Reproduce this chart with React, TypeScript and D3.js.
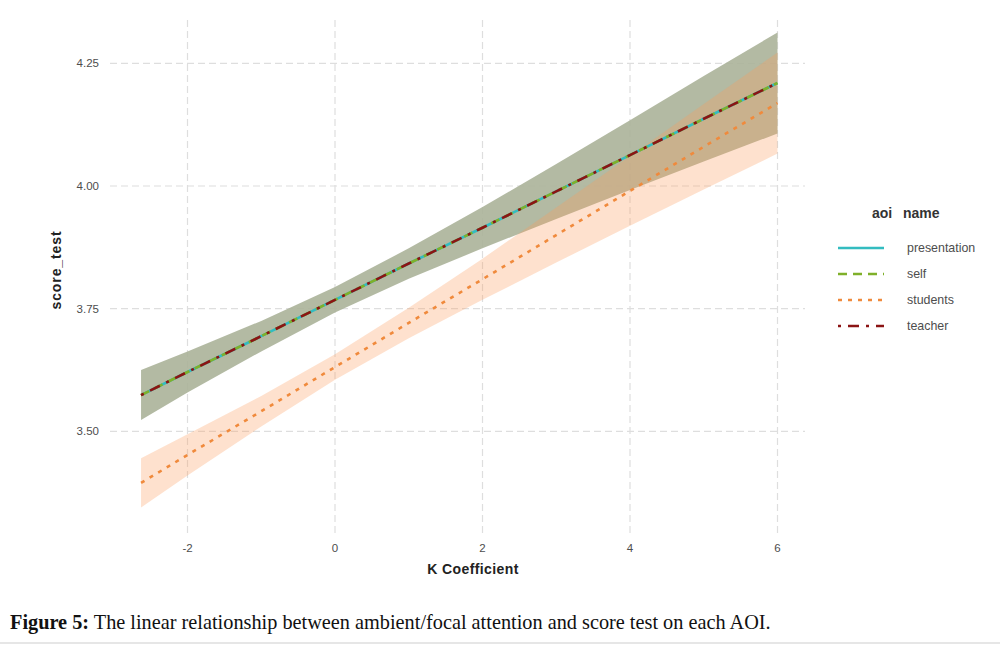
import React from "react";
import * as d3 from "d3";

// ---- data ----
const kValues = [-2.63, -2, -1, 0, 1, 2, 3, 4, 5, 6];

// presentation, self and teacher share the same fit and band
const sharedFit = [3.574, 3.621, 3.694, 3.768, 3.842, 3.915, 3.989, 4.063, 4.137, 4.21];
const sharedLower = [3.523, 3.579, 3.663, 3.742, 3.811, 3.873, 3.933, 3.992, 4.05, 4.107];
const sharedUpper = [3.625, 3.663, 3.725, 3.794, 3.873, 3.957, 4.045, 4.134, 4.224, 4.313];

const studentsFit = [3.395, 3.452, 3.541, 3.631, 3.721, 3.81, 3.9, 3.99, 4.08, 4.169];
const studentsLower = [3.345, 3.41, 3.51, 3.605, 3.69, 3.768, 3.844, 3.919, 3.993, 4.066];
const studentsUpper = [3.445, 3.494, 3.572, 3.657, 3.752, 3.852, 3.956, 4.061, 4.167, 4.272];

const seriesNames = ["presentation", "self", "students", "teacher"];
const xTicks = [-2, 0, 2, 4, 6];
const yTicks = [3.5, 3.75, 4.0, 4.25];

const seriesStyle: Record<string, { color: string; dash: string | null }> = {
  presentation: { color: "#33bcc0", dash: null },
  self: { color: "#7fb02a", dash: "9,6" },
  students: { color: "#f08a3c", dash: "4,6" },
  teacher: { color: "#8b1414", dash: "3,7,11,7" },
};

const fitFor: Record<string, number[]> = {
  presentation: sharedFit,
  self: sharedFit,
  students: studentsFit,
  teacher: sharedFit,
};

export default function App() {
  const W = 1000;
  const H = 645;
  const panel = { left: 110, right: 805, top: 20, bottom: 535 };

  const x = d3.scaleLinear().domain([-3.051, 6.373]).range([panel.left, panel.right]);
  const y = d3.scaleLinear().domain([3.2888, 4.3383]).range([panel.bottom, panel.top]);

  const pts = (vals: number[]) => kValues.map((k, i) => [k, vals[i]] as [number, number]);

  const line = d3
    .line<[number, number]>()
    .x((d) => x(d[0]))
    .y((d) => y(d[1]));

  const band = (lo: number[], hi: number[]) =>
    d3
      .area<number>()
      .x((_, i) => x(kValues[i]))
      .y0((_, i) => y(lo[i]))
      .y1((_, i) => y(hi[i]))(kValues.map((_, i) => i)) || "";

  const gridColor = "#dedede";
  const sans = "'Liberation Sans', Arial, Helvetica, sans-serif";

  const legendY = [248, 274, 300, 326];

  return (
    <svg
      width={W}
      height={H}
      style={{ position: "absolute", left: 0, top: 0, background: "#fff" }}
      fontFamily={sans}
    >
      {/* grid */}
      {yTicks.map((t) => (
        <line
          key={"gy" + t}
          x1={panel.left}
          x2={panel.right}
          y1={y(t)}
          y2={y(t)}
          stroke={gridColor}
          strokeWidth={1.2}
          strokeDasharray="7,4"
        />
      ))}
      {xTicks.map((t) => (
        <line
          key={"gx" + t}
          x1={x(t)}
          x2={x(t)}
          y1={panel.top}
          y2={panel.bottom}
          stroke={gridColor}
          strokeWidth={1.2}
          strokeDasharray="7,4"
        />
      ))}

      {/* confidence bands */}
      <path d={band(sharedLower, sharedUpper)} fill="#abb299" opacity={0.9} />
      <path d={band(studentsLower, studentsUpper)} fill="#fb9c5c" opacity={0.3} />

      {/* fitted lines */}
      {seriesNames.map((s) => (
        <path
          key={s}
          d={line(pts(fitFor[s])) || ""}
          fill="none"
          stroke={seriesStyle[s].color}
          strokeWidth={2.6}
          strokeDasharray={seriesStyle[s].dash || undefined}
        />
      ))}

      {/* y tick labels */}
      {yTicks.map((t) => (
        <text
          key={"yl" + t}
          x={99}
          y={y(t)}
          dy="0.35em"
          textAnchor="end"
          fontSize={11.5}
          fill="#4d4d4d"
        >
          {d3.format(".2f")(t)}
        </text>
      ))}
      {/* x tick labels */}
      {xTicks.map((t) => (
        <text
          key={"xl" + t}
          x={x(t)}
          y={552}
          textAnchor="middle"
          fontSize={11.5}
          fill="#4d4d4d"
        >
          {t}
        </text>
      ))}

      {/* axis titles */}
      <text
        x={473}
        y={574}
        textAnchor="middle"
        fontSize={14}
        fontWeight="bold"
        letterSpacing={0.4}
        fill="#222"
      >
        K Coefficient
      </text>
      <text
        transform={`translate(61,270) rotate(-90)`}
        textAnchor="middle"
        fontSize={14}
        fontWeight="bold"
        letterSpacing={0.9}
        fill="#222"
      >
        score_test
      </text>

      {/* legend */}
      <text x={872} y={218} fontSize={14} fontWeight="bold" fill="#333">
        aoi
      </text>
      <text x={903} y={218} fontSize={14} fontWeight="bold" fill="#333">
        name
      </text>
      {seriesNames.map((s, i) => (
        <g key={"lg" + s}>
          <line
            x1={838}
            x2={884}
            y1={legendY[i]}
            y2={legendY[i]}
            stroke={seriesStyle[s].color}
            strokeWidth={2.6}
            strokeDasharray={seriesStyle[s].dash || undefined}
          />
          <text x={907} y={legendY[i]} dy="0.35em" fontSize={12.4} fill="#4d4d4d">
            {s}
          </text>
        </g>
      ))}

      {/* caption */}
      <text
        x={10}
        y={629}
        fontFamily="'Liberation Serif', 'Times New Roman', serif"
        fontSize={20.3}
        fill="#111"
      >
        <tspan fontWeight="bold">Figure 5:</tspan>
        <tspan> The linear relationship between ambient/focal attention and score test on each AOI.</tspan>
      </text>
      <line x1={0} x2={W} y1={643} y2={643} stroke="#e6e6e6" strokeWidth={2} />
    </svg>
  );
}
